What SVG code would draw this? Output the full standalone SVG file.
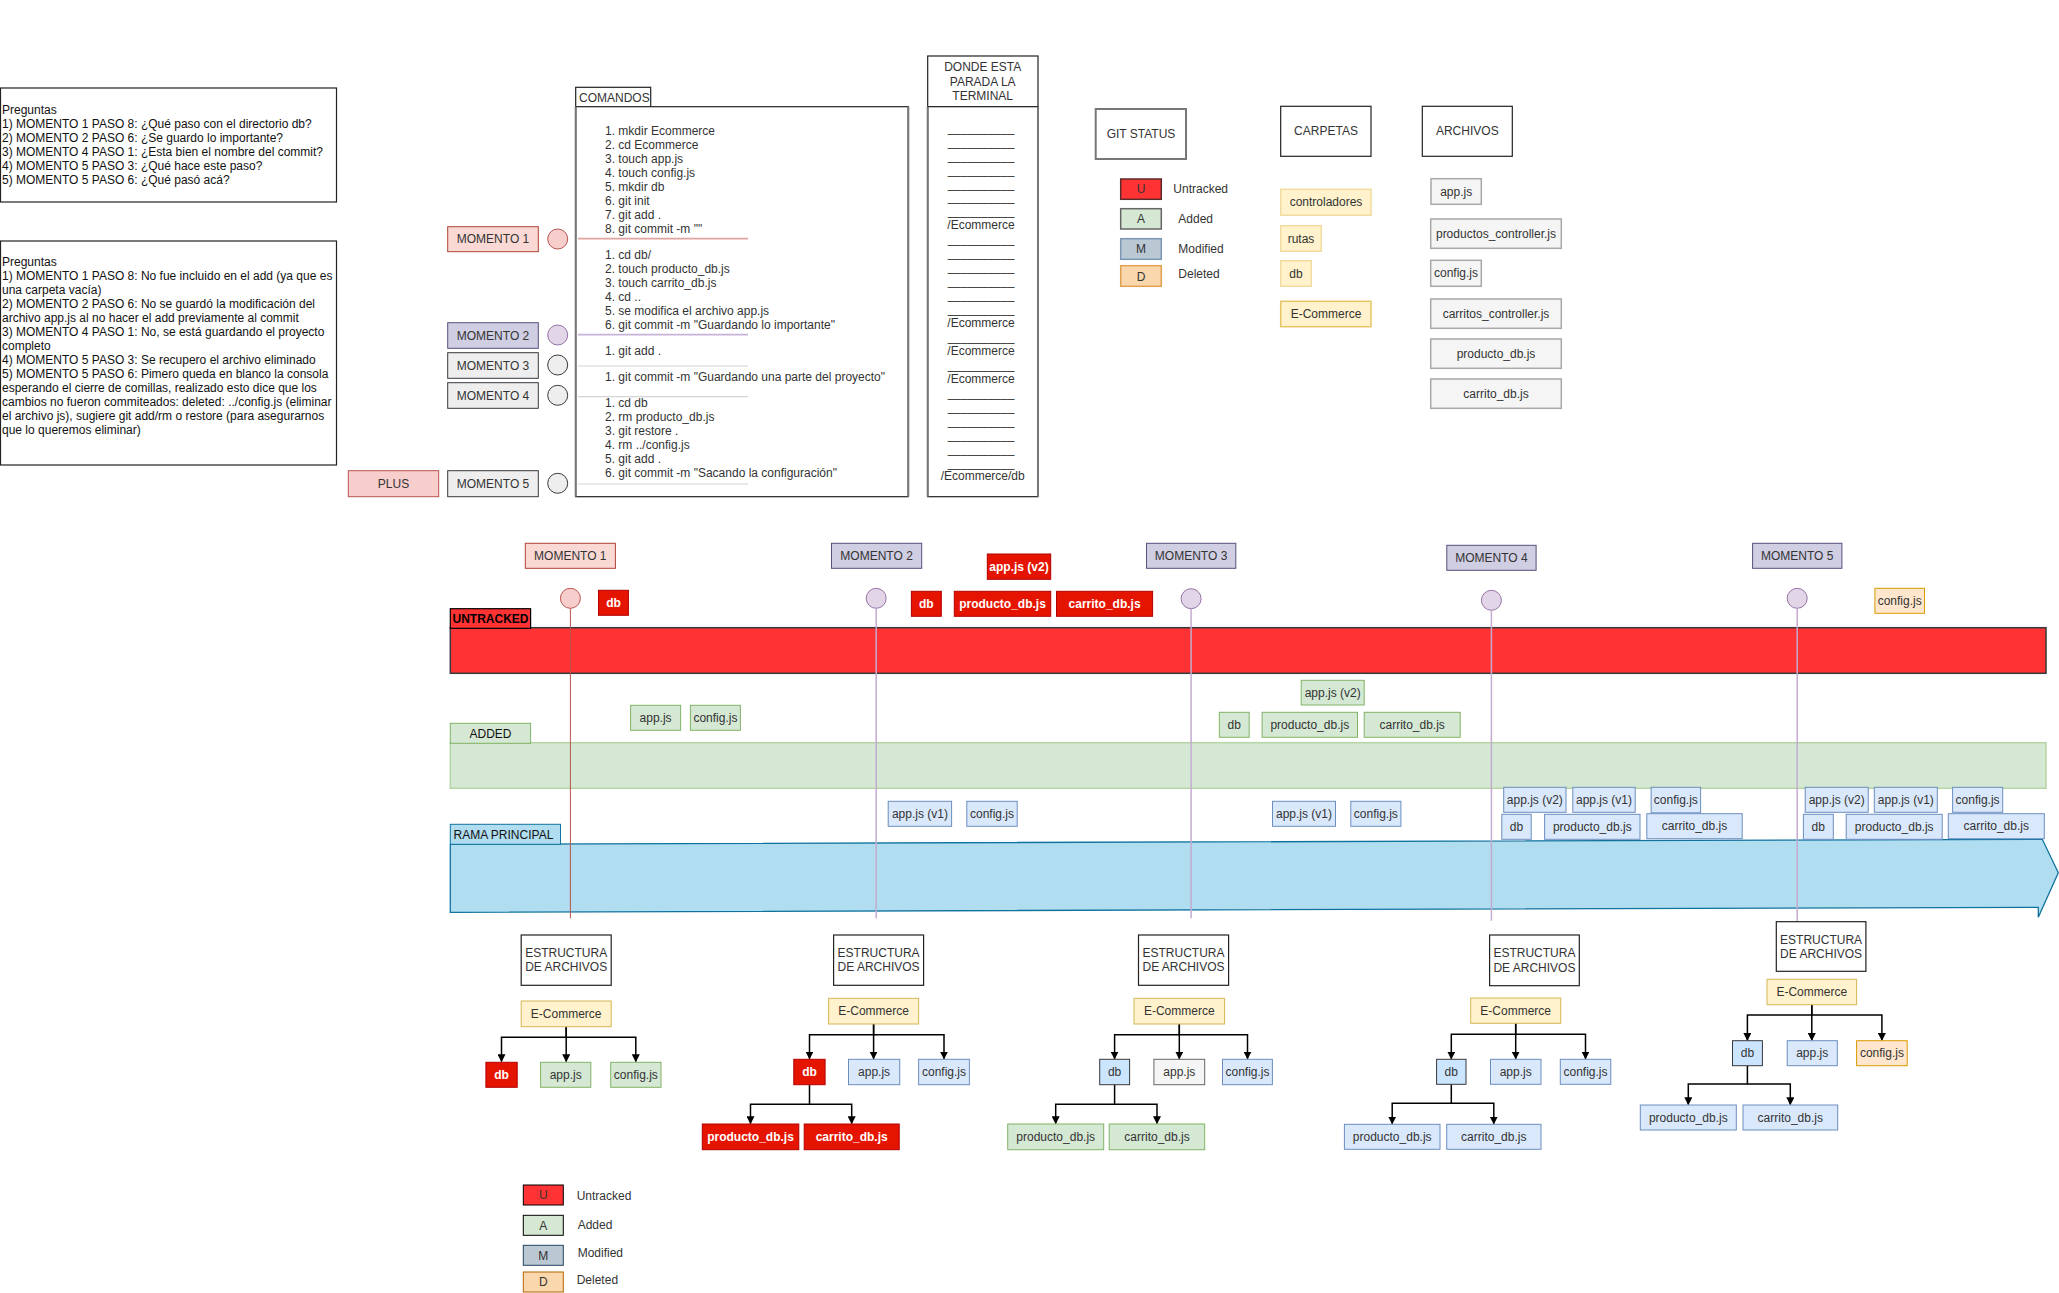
<svg xmlns="http://www.w3.org/2000/svg" width="2059" height="1293" viewBox="0 0 2059 1293">
<defs>
<style>
text { font-family: "Liberation Sans", Arial, Helvetica, sans-serif; font-size: 12px; fill: #333; }
.m { text-anchor: middle; dominant-baseline: central; }
.l { dominant-baseline: central; }
.q { font-size: 12px; fill: #111; }
.w { fill: #fff; font-weight: bold; }
.b { font-weight: bold; fill: #000; }
.box { fill: #fff; stroke: #222; stroke-width: 1.2; }
.red { fill: #e51400; stroke: #b20000; }
.grn { fill: #d5e8d4; stroke: #82b366; }
.blu { fill: #dae8fc; stroke: #6c8ebf; }
.dbb { fill: #cce5ff; stroke: #36393d; }
.yel { fill: #fff2cc; stroke: #d6b656; }
.org { fill: #ffe6cc; stroke: #d79b00; }
.gry { fill: #f5f5f5; stroke: #666; }
.lgry { fill: #f5f5f5; stroke: #a8a8a8; stroke-width: 1.5; }
.pk { fill: #fad9d5; stroke: #ae4132; }
.pu { fill: #d0cee2; stroke: #56517e; }
.ge { fill: #eeeeee; stroke: #36393d; }
.arr { fill: none; stroke: #000; stroke-width: 1.5; marker-end: url(#tip); }
.vl { fill: none; stroke: #c3abd0; stroke-width: 1.5; }
</style>
<marker id="tip" viewBox="0 0 10 10" refX="9" refY="5" markerWidth="8" markerHeight="8" markerUnits="userSpaceOnUse" orient="auto">
<path d="M0,0 L10,5 L0,10 Z" fill="#000"/>
</marker>
</defs>
<rect x="0" y="0" width="2059" height="1293" fill="#fff"/>

<!-- question boxes -->
<g id="preguntas">
<rect x="0.5" y="88" width="336" height="114" class="box"/>
<text class="l q" x="2" y="110.2">Preguntas</text>
<text class="l q" x="2" y="124.2">1) MOMENTO 1 PASO 8: ¿Qué paso con el directorio db?</text>
<text class="l q" x="2" y="138">2) MOMENTO 2 PASO 6: ¿Se guardo lo importante?</text>
<text class="l q" x="2" y="151.9">3) MOMENTO 4 PASO 1: ¿Esta bien el nombre del commit?</text>
<text class="l q" x="2" y="165.8">4) MOMENTO 5 PASO 3: ¿Qué hace este paso?</text>
<text class="l q" x="2" y="179.8">5) MOMENTO 5 PASO 6: ¿Qué pasó acá?</text>
</g>
<g id="respuestas">
<rect x="0.5" y="241" width="336" height="224" class="box"/>
<text class="l q" x="2" y="261.5">Preguntas</text>
<text class="l q" x="2" y="275.5">1) MOMENTO 1 PASO 8: No fue incluido en el add (ya que es</text>
<text class="l q" x="2" y="289.5">una carpeta vacía)</text>
<text class="l q" x="2" y="303.5">2) MOMENTO 2 PASO 6: No se guardó la modificación del</text>
<text class="l q" x="2" y="317.5">archivo app.js al no hacer el add previamente al commit</text>
<text class="l q" x="2" y="331.5">3) MOMENTO 4 PASO 1: No, se está guardando el proyecto</text>
<text class="l q" x="2" y="345.5">completo</text>
<text class="l q" x="2" y="359.5">4) MOMENTO 5 PASO 3: Se recupero el archivo eliminado</text>
<text class="l q" x="2" y="373.5">5) MOMENTO 5 PASO 6: Pimero queda en blanco la consola</text>
<text class="l q" x="2" y="387.5">esperando el cierre de comillas, realizado esto dice que los</text>
<text class="l q" x="2" y="401.5">cambios no fueron commiteados: deleted: ../config.js (eliminar</text>
<text class="l q" x="2" y="415.5">el archivo js), sugiere git add/rm o restore (para asegurarnos</text>
<text class="l q" x="2" y="429.5">que lo queremos eliminar)</text>
</g>

<!-- moment markers beside the command list -->
<g id="plus">
<rect x="348.3" y="470.7" width="90.4" height="26" fill="#f8cecc" stroke="#b85450"/>
<text class="m" x="393.5" y="483.7">PLUS</text>
</g>
<g id="lado-m1">
<rect x="447.7" y="226.7" width="90.6" height="25" class="pk"/>
<text class="m" x="493" y="239.2">MOMENTO 1</text>
<circle cx="557.7" cy="239" r="10" fill="#f8cecc" stroke="#b85450"/>
</g>
<g id="lado-m2">
<rect x="447.7" y="322.7" width="90.6" height="25.6" class="pu"/>
<text class="m" x="493" y="335.5">MOMENTO 2</text>
<circle cx="557.7" cy="335" r="10" fill="#e1d5e7" stroke="#9673a6"/>
</g>
<g id="lado-m3">
<rect x="447.7" y="352.7" width="90.6" height="25.6" class="ge"/>
<text class="m" x="493" y="365.5">MOMENTO 3</text>
<circle cx="557.7" cy="365" r="10" class="ge" stroke="#555"/>
</g>
<g id="lado-m4">
<rect x="447.7" y="382.7" width="90.6" height="25.6" class="ge"/>
<text class="m" x="493" y="395.5">MOMENTO 4</text>
<circle cx="557.7" cy="395.3" r="10" class="ge"/>
</g>
<g id="lado-m5">
<rect x="447.7" y="470.7" width="90.6" height="26" class="ge"/>
<text class="m" x="493" y="483.7">MOMENTO 5</text>
<circle cx="557.7" cy="483.3" r="10" class="ge"/>
</g>

<!-- command list -->
<g id="comandos">
<rect x="575.7" y="87.3" width="75" height="20" class="box"/>
<text class="l" x="579" y="97.5">COMANDOS</text>
<rect x="575.7" y="106.7" width="332.6" height="390" class="box"/>
<line x1="575.7" y1="106.7" x2="575.7" y2="496.7" stroke="#777" stroke-width="2"/>
<line x1="908.3" y1="106.7" x2="908.3" y2="496.7" stroke="#777" stroke-width="2"/>
<text class="l" x="605" y="130.7">1. mkdir Ecommerce</text>
<text class="l" x="605" y="144.7">2. cd Ecommerce</text>
<text class="l" x="605" y="158.7">3. touch app.js</text>
<text class="l" x="605" y="172.7">4. touch config.js</text>
<text class="l" x="605" y="186.7">5. mkdir db</text>
<text class="l" x="605" y="200.7">6. git init</text>
<text class="l" x="605" y="214.7">7. git add .</text>
<text class="l" x="605" y="228.7">8. git commit -m ""</text>
<line x1="578" y1="238.7" x2="748" y2="238.7" stroke="#e0a3a0" stroke-width="1.8"/>
<text class="l" x="605" y="254.7">1. cd db/</text>
<text class="l" x="605" y="268.7">2. touch producto_db.js</text>
<text class="l" x="605" y="282.7">3. touch carrito_db.js</text>
<text class="l" x="605" y="296.7">4. cd ..</text>
<text class="l" x="605" y="310.7">5. se modifica el archivo app.js</text>
<text class="l" x="605" y="324.7">6. git commit -m "Guardando lo importante"</text>
<line x1="578" y1="334.7" x2="748" y2="334.7" stroke="#c7b3d6" stroke-width="1.8"/>
<text class="l" x="605" y="350.7">1. git add .</text>
<line x1="578" y1="366" x2="748" y2="366" stroke="#d4d4d4" stroke-width="1.2"/>
<text class="l" x="605" y="376.7">1. git commit -m "Guardando una parte del proyecto"</text>
<line x1="578" y1="396.7" x2="748" y2="396.7" stroke="#d4d4d4" stroke-width="1.2"/>
<text class="l" x="605" y="402.7">1. cd db</text>
<text class="l" x="605" y="416.7">2. rm producto_db.js</text>
<text class="l" x="605" y="430.7">3. git restore .</text>
<text class="l" x="605" y="444.7">4. rm ../config.js</text>
<text class="l" x="605" y="458.7">5. git add .</text>
<text class="l" x="605" y="472.7">6. git commit -m "Sacando la configuración"</text>
<line x1="578" y1="484" x2="748" y2="484" stroke="#d4d4d4" stroke-width="1.2"/>
</g>

<!-- working directory column -->
<g id="terminal">
<rect x="927.7" y="56" width="110.3" height="50.7" class="box"/>
<text class="m" x="982.7" y="67.3">DONDE ESTA</text>
<text class="m" x="982.7" y="81.7">PARADA LA</text>
<text class="m" x="982.7" y="95.7">TERMINAL</text>
<rect x="927.7" y="106.7" width="110.3" height="390" class="box"/>
<line x1="927.7" y1="106.7" x2="927.7" y2="496.7" stroke="#777" stroke-width="2"/>
<line x1="1038" y1="106.7" x2="1038" y2="496.7" stroke="#777" stroke-width="2"/>
<text class="m">
<tspan x="982.7" y="127.7">__________</tspan>
<tspan x="982.7" y="141.65">__________</tspan>
<tspan x="982.7" y="155.6">__________</tspan>
<tspan x="982.7" y="169.55">__________</tspan>
<tspan x="982.7" y="183.5">__________</tspan>
<tspan x="982.7" y="197.45">__________</tspan>
<tspan x="982.7" y="211.4">__________</tspan>
<tspan x="982.7" y="225.35">/Ecommerce</tspan>
<tspan x="982.7" y="239.3">__________</tspan>
<tspan x="982.7" y="253.25">__________</tspan>
<tspan x="982.7" y="267.2">__________</tspan>
<tspan x="982.7" y="281.15">__________</tspan>
<tspan x="982.7" y="295.1">__________</tspan>
<tspan x="982.7" y="309.05">__________</tspan>
<tspan x="982.7" y="323">/Ecommerce</tspan>
<tspan x="982.7" y="336.95">__________</tspan>
<tspan x="982.7" y="350.9">/Ecommerce</tspan>
<tspan x="982.7" y="364.85">__________</tspan>
<tspan x="982.7" y="378.8">/Ecommerce</tspan>
<tspan x="982.7" y="392.75">__________</tspan>
<tspan x="982.7" y="406.7">__________</tspan>
<tspan x="982.7" y="420.65">__________</tspan>
<tspan x="982.7" y="434.6">__________</tspan>
<tspan x="982.7" y="448.55">__________</tspan>
<tspan x="982.7" y="462.5">__________</tspan>
<tspan x="982.7" y="476.45">/Ecommerce/db</tspan>
</text>
</g>

<!-- status legend -->
<g id="git-status">
<rect x="1095.7" y="109" width="90.3" height="50" fill="#fff" stroke="#777" stroke-width="2"/>
<text class="m" x="1141" y="134.3">GIT STATUS</text>
<rect x="1120.7" y="179" width="40.6" height="20.3" fill="#ff3333" stroke="#5c2a2a" stroke-width="1.5"/>
<text class="m" x="1141" y="189.3">U</text>
<text class="l" x="1173.3" y="189.3">Untracked</text>
<rect x="1120.7" y="208.7" width="40.6" height="20.3" fill="#d5e8d4" stroke="#666" stroke-width="1.5"/>
<text class="m" x="1141" y="219">A</text>
<text class="l" x="1178.3" y="219.3">Added</text>
<rect x="1120.7" y="238.7" width="40.6" height="20.6" fill="#bac8d3" stroke="#7b97b5" stroke-width="1.5"/>
<text class="m" x="1141" y="249">M</text>
<text class="l" x="1178.3" y="249.3">Modified</text>
<rect x="1120.7" y="265.7" width="40.6" height="20.6" fill="#fad7ac" stroke="#e0a050" stroke-width="1.5"/>
<text class="m" x="1141" y="276.5">D</text>
<text class="l" x="1178.3" y="274.3">Deleted</text>
</g>

<g id="carpetas">
<rect x="1280.7" y="106.3" width="90.3" height="50" class="box"/>
<text class="m" x="1326" y="131.3">CARPETAS</text>
<rect x="1280.7" y="189.3" width="90.3" height="26" fill="#fff2cc" stroke="#f0dca0" stroke-width="1.5"/>
<text class="m" x="1326" y="202.3">controladores</text>
<rect x="1280.7" y="225.7" width="40.6" height="25.6" fill="#fff2cc" stroke="#f0dca0" stroke-width="1.5"/>
<text class="m" x="1301" y="238.5">rutas</text>
<rect x="1280.7" y="260.7" width="30.6" height="25.6" fill="#fff2cc" stroke="#f0dca0" stroke-width="1.5"/>
<text class="m" x="1296" y="273.5">db</text>
<rect x="1280.7" y="301.3" width="90.3" height="25.4" fill="#fff2cc" stroke="#e6c566" stroke-width="1.5"/>
<text class="m" x="1326" y="314">E-Commerce</text>
</g>

<g id="archivos">
<rect x="1422.3" y="106.3" width="90" height="50" class="box"/>
<text class="m" x="1467.3" y="131.3">ARCHIVOS</text>
<rect x="1431" y="178.7" width="50.3" height="25.6" class="lgry"/>
<text class="m" x="1456.2" y="191.5">app.js</text>
<rect x="1430.7" y="219" width="130.6" height="29.3" class="lgry"/>
<text class="m" x="1496" y="233.7">productos_controller.js</text>
<rect x="1430.7" y="260.3" width="50.6" height="26" class="lgry"/>
<text class="m" x="1456" y="273.3">config.js</text>
<rect x="1430.7" y="299" width="130.6" height="29.3" class="lgry"/>
<text class="m" x="1496" y="313.7">carritos_controller.js</text>
<rect x="1430.7" y="339" width="130.6" height="29.3" class="lgry"/>
<text class="m" x="1496" y="353.7">producto_db.js</text>
<rect x="1430.7" y="379" width="130.6" height="29.3" class="lgry"/>
<text class="m" x="1496" y="393.7">carrito_db.js</text>
</g>

<!-- lanes -->
<g id="carril-untracked">
<rect x="450.3" y="627.7" width="1595.7" height="45.6" fill="#ff3333" stroke="#36393d" stroke-width="1.5"/>
<rect x="450.3" y="608.7" width="80.3" height="19.6" fill="#ff3333" stroke="#000" stroke-width="1.2"/>
<text class="m b" x="490.5" y="618.7">UNTRACKED</text>
</g>
<g id="carril-added">
<rect x="450.3" y="742.7" width="1595.7" height="45.6" fill="#d5e8d4" stroke="#b5d5a5" stroke-width="1.5"/>
<rect x="450.3" y="723.3" width="80.3" height="20" fill="#d5e8d4" stroke="#82b366"/>
<text class="m" x="490.5" y="733.5" style="fill:#111">ADDED</text>
</g>
<g id="carril-rama">
<polygon points="450.3,844.3 2042.3,839.3 2058.3,872.7 2038.3,917.3 2038.3,907.3 450.3,912.3" fill="#b1ddf0" stroke="#10739e" stroke-width="1.3"/>
<rect x="450.3" y="824.3" width="110.2" height="20" fill="#b1ddf0" stroke="#10739e"/>
<text class="l" x="453.5" y="834.5" style="fill:#111">RAMA PRINCIPAL</text>
</g>

<!-- timeline moments -->
<g id="momento-1">
<rect x="525.3" y="543.3" width="90.1" height="25" class="pk"/>
<text class="m" x="570.3" y="555.8">MOMENTO 1</text>
<circle cx="570.4" cy="598.3" r="10" fill="#f8cecc" stroke="#b85450"/>
</g>
<g id="momento-2">
<rect x="831.5" y="543.3" width="90.2" height="25" class="pu"/>
<text class="m" x="876.6" y="555.8">MOMENTO 2</text>
<circle cx="876.2" cy="598.3" r="10" fill="#e1d5e7" stroke="#9673a6"/>
</g>
<g id="momento-3">
<rect x="1146.5" y="543.3" width="89.3" height="25" class="pu"/>
<text class="m" x="1191.1" y="555.8">MOMENTO 3</text>
<circle cx="1191.1" cy="598.7" r="10" fill="#e1d5e7" stroke="#9673a6"/>
</g>
<g id="momento-4">
<rect x="1446.8" y="545.3" width="89.3" height="25" class="pu"/>
<text class="m" x="1491.4" y="557.8">MOMENTO 4</text>
<circle cx="1491.4" cy="600.3" r="10" fill="#e1d5e7" stroke="#9673a6"/>
</g>
<g id="momento-5">
<rect x="1752.6" y="543.3" width="89.3" height="25" class="pu"/>
<text class="m" x="1797.2" y="555.8">MOMENTO 5</text>
<circle cx="1797.2" cy="598.3" r="10" fill="#e1d5e7" stroke="#9673a6"/>
</g>

<!-- connectors: moment lines and tree arrows -->
<g id="connectors">
<line x1="570.4" y1="608.3" x2="570.4" y2="918.3" stroke="#b85450" stroke-width="1"/>
<line x1="876.2" y1="608.3" x2="876.2" y2="918.3" class="vl"/>
<line x1="1191.1" y1="608.7" x2="1191.1" y2="918.3" class="vl"/>
<line x1="1491.4" y1="610.3" x2="1491.4" y2="920.7" class="vl"/>
<line x1="1797.2" y1="608.3" x2="1797.2" y2="921.7" class="vl"/>

<path class="arr" d="M566.2,1026.7 V1037.3 H501.5 V1061.5"/>
<path class="arr" d="M566.2,1026.7 V1061.5"/>
<path class="arr" d="M566.2,1037.3 H635.8 V1061.5"/>

<path class="arr" d="M873.6,1024 V1034.7 H809.5 V1058.8"/>
<path class="arr" d="M873.6,1024 V1058.8"/>
<path class="arr" d="M873.6,1034.7 H944 V1058.8"/>
<path class="arr" d="M809.5,1084.7 V1104.3 H750.5 V1123.5"/>
<path class="arr" d="M809.5,1104.3 H851.7 V1123.5"/>

<path class="arr" d="M1179.3,1024 V1034.7 H1114.6 V1058.8"/>
<path class="arr" d="M1179.3,1024 V1058.8"/>
<path class="arr" d="M1179.3,1034.7 H1247.5 V1058.8"/>
<path class="arr" d="M1114.6,1084.7 V1104.3 H1055.7 V1123.5"/>
<path class="arr" d="M1114.6,1104.3 H1157 V1123.5"/>

<path class="arr" d="M1515.7,1023.3 V1034.3 H1451.3 V1058.8"/>
<path class="arr" d="M1515.7,1023.3 V1058.8"/>
<path class="arr" d="M1515.7,1034.3 H1585.5 V1058.8"/>
<path class="arr" d="M1451.3,1084.3 V1103.3 H1392.2 V1123.8"/>
<path class="arr" d="M1451.3,1103.3 H1493.8 V1123.8"/>

<path class="arr" d="M1811.8,1004.7 V1015 H1747.4 V1040.2"/>
<path class="arr" d="M1811.8,1004.7 V1040.2"/>
<path class="arr" d="M1811.8,1015 H1881.9 V1040.2"/>
<path class="arr" d="M1747.4,1065.7 V1084 H1688.3 V1104.5"/>
<path class="arr" d="M1747.4,1084 H1790.3 V1104.5"/>
</g>

<!-- files in each lane -->
<g id="untracked-m1-db">
<rect x="598.5" y="590.3" width="29.9" height="25" class="red"/>
<text class="m w" x="613.5" y="602.8">db</text>
</g>
<g id="untracked-m2-appjs-v2">
<rect x="987.3" y="554" width="63.4" height="25.3" class="red"/>
<text class="m w" x="1019" y="566.7">app.js (v2)</text>
</g>
<g id="untracked-m2-db">
<rect x="911.4" y="591.3" width="29.9" height="25" class="red"/>
<text class="m w" x="926.3" y="603.8">db</text>
</g>
<g id="untracked-m2-producto">
<rect x="954.3" y="591.3" width="96.4" height="25" class="red"/>
<text class="m w" x="1002.5" y="603.8">producto_db.js</text>
</g>
<g id="untracked-m2-carrito">
<rect x="1056.5" y="591.3" width="96.1" height="25" class="red"/>
<text class="m w" x="1104.6" y="603.8">carrito_db.js</text>
</g>
<g id="deleted-m5-config">
<rect x="1874.9" y="588.3" width="49.6" height="25" class="org"/>
<text class="m" x="1899.7" y="600.8">config.js</text>
</g>

<g id="added-m1-appjs">
<rect x="630.6" y="705.3" width="50" height="25" class="grn"/>
<text class="m" x="655.6" y="717.8">app.js</text>
</g>
<g id="added-m1-config">
<rect x="690.4" y="705.3" width="50" height="25" class="grn"/>
<text class="m" x="715.4" y="717.8">config.js</text>
</g>
<g id="added-m3-appjs-v2">
<rect x="1301.2" y="680.3" width="63" height="24.7" class="grn"/>
<text class="m" x="1332.7" y="692.7">app.js (v2)</text>
</g>
<g id="added-m3-db">
<rect x="1219.3" y="712.3" width="29.9" height="25" class="grn"/>
<text class="m" x="1234.2" y="724.8">db</text>
</g>
<g id="added-m3-producto">
<rect x="1262.1" y="712.3" width="95.4" height="25" class="grn"/>
<text class="m" x="1309.8" y="724.8">producto_db.js</text>
</g>
<g id="added-m3-carrito">
<rect x="1364.2" y="712.3" width="96" height="25" class="grn"/>
<text class="m" x="1412.2" y="724.8">carrito_db.js</text>
</g>

<g id="rama-m2-appjs-v1">
<rect x="888.2" y="801.3" width="63.4" height="25" class="blu"/>
<text class="m" x="919.9" y="813.8">app.js (v1)</text>
</g>
<g id="rama-m2-config">
<rect x="966.8" y="801.3" width="50.4" height="25" class="blu"/>
<text class="m" x="992" y="813.8">config.js</text>
</g>
<g id="rama-m3-appjs-v1">
<rect x="1272.5" y="801.3" width="63" height="25" class="blu"/>
<text class="m" x="1304" y="813.8">app.js (v1)</text>
</g>
<g id="rama-m3-config">
<rect x="1350.8" y="801.3" width="50.1" height="25" class="blu"/>
<text class="m" x="1375.8" y="813.8">config.js</text>
</g>
<g id="rama-m4-appjs-v2">
<rect x="1503.7" y="787.3" width="62.3" height="25" class="blu"/>
<text class="m" x="1534.8" y="799.8">app.js (v2)</text>
</g>
<g id="rama-m4-appjs-v1">
<rect x="1572.8" y="787.3" width="62.4" height="25" class="blu"/>
<text class="m" x="1604" y="799.8">app.js (v1)</text>
</g>
<g id="rama-m4-config">
<rect x="1651.1" y="787.3" width="49.5" height="25.5" class="blu"/>
<text class="m" x="1675.8" y="799.8">config.js</text>
</g>
<g id="rama-m4-db">
<rect x="1501.8" y="814.3" width="29.4" height="25" class="blu"/>
<text class="m" x="1516.5" y="826.8">db</text>
</g>
<g id="rama-m4-producto">
<rect x="1544.6" y="814.3" width="95.4" height="25" class="blu"/>
<text class="m" x="1592.3" y="826.8">producto_db.js</text>
</g>
<g id="rama-m4-carrito">
<rect x="1646.8" y="813.7" width="95.4" height="25" class="blu"/>
<text class="m" x="1694.5" y="826.2">carrito_db.js</text>
</g>
<g id="rama-m5-appjs-v2">
<rect x="1805.2" y="787.3" width="63" height="25" class="blu"/>
<text class="m" x="1836.7" y="799.8">app.js (v2)</text>
</g>
<g id="rama-m5-appjs-v1">
<rect x="1874.3" y="787.3" width="63" height="25" class="blu"/>
<text class="m" x="1905.8" y="799.8">app.js (v1)</text>
</g>
<g id="rama-m5-config">
<rect x="1952.6" y="787.3" width="50.1" height="25" class="blu"/>
<text class="m" x="1977.6" y="799.8">config.js</text>
</g>
<g id="rama-m5-db">
<rect x="1803.4" y="814.3" width="29.9" height="25" class="blu"/>
<text class="m" x="1818.3" y="826.8">db</text>
</g>
<g id="rama-m5-producto">
<rect x="1846.2" y="814.3" width="96" height="25" class="blu"/>
<text class="m" x="1894.2" y="826.8">producto_db.js</text>
</g>
<g id="rama-m5-carrito">
<rect x="1948.3" y="813.7" width="96" height="25" class="blu"/>
<text class="m" x="1996.3" y="826.2">carrito_db.js</text>
</g>

<!-- file structure trees -->
<g id="arbol-1">
<rect x="521.2" y="935" width="90" height="50.3" class="box"/>
<text class="m" x="566.2" y="953.3">ESTRUCTURA</text>
<text class="m" x="566.2" y="967.3">DE ARCHIVOS</text>
<rect x="521.2" y="1001" width="90" height="25.7" class="yel"/>
<text class="m" x="566.2" y="1013.8">E-Commerce</text>
<rect x="485.9" y="1062.3" width="31.3" height="25" class="red"/>
<text class="m w" x="501.5" y="1074.8">db</text>
<rect x="540.6" y="1062.3" width="50.2" height="25" class="grn"/>
<text class="m" x="565.7" y="1074.8">app.js</text>
<rect x="610.7" y="1062.3" width="50.3" height="25" class="grn"/>
<text class="m" x="635.8" y="1074.8">config.js</text>
</g>

<g id="arbol-2">
<rect x="833.6" y="935" width="90" height="50.3" class="box"/>
<text class="m" x="878.6" y="953.3">ESTRUCTURA</text>
<text class="m" x="878.6" y="967.3">DE ARCHIVOS</text>
<rect x="828.6" y="998.3" width="90" height="25.7" class="yel"/>
<text class="m" x="873.6" y="1011.2">E-Commerce</text>
<rect x="793.8" y="1059.3" width="31.3" height="25.4" class="red"/>
<text class="m w" x="809.5" y="1072">db</text>
<rect x="848.5" y="1059.3" width="51.2" height="25.4" class="blu"/>
<text class="m" x="874.1" y="1072">app.js</text>
<rect x="918.6" y="1059.3" width="50.8" height="25.4" class="blu"/>
<text class="m" x="944" y="1072">config.js</text>
<rect x="702.3" y="1124" width="96.5" height="25.7" class="red"/>
<text class="m w" x="750.5" y="1136.8">producto_db.js</text>
<rect x="804.2" y="1124" width="95" height="25.7" class="red"/>
<text class="m w" x="851.7" y="1136.8">carrito_db.js</text>
</g>

<g id="arbol-3">
<rect x="1138.5" y="935" width="90.1" height="50.3" class="box"/>
<text class="m" x="1183.5" y="953.3">ESTRUCTURA</text>
<text class="m" x="1183.5" y="967.3">DE ARCHIVOS</text>
<rect x="1134" y="998.3" width="90.6" height="25.7" class="yel"/>
<text class="m" x="1179.3" y="1011.2">E-Commerce</text>
<rect x="1099.7" y="1059.3" width="29.9" height="25.4" class="dbb"/>
<text class="m" x="1114.6" y="1072">db</text>
<rect x="1153.9" y="1059.3" width="50.8" height="25.4" class="gry"/>
<text class="m" x="1179.3" y="1072">app.js</text>
<rect x="1222.5" y="1059.3" width="49.9" height="25.4" class="blu"/>
<text class="m" x="1247.5" y="1072">config.js</text>
<rect x="1007.7" y="1124" width="96" height="25.7" class="grn"/>
<text class="m" x="1055.7" y="1136.8">producto_db.js</text>
<rect x="1109.2" y="1124" width="95.5" height="25.7" class="grn"/>
<text class="m" x="1157" y="1136.8">carrito_db.js</text>
</g>

<g id="arbol-4">
<rect x="1489.6" y="935" width="89.7" height="50.7" class="box"/>
<text class="m" x="1534.4" y="953.3">ESTRUCTURA</text>
<text class="m" x="1534.4" y="967.7">DE ARCHIVOS</text>
<rect x="1470.7" y="998" width="90" height="25.3" class="yel"/>
<text class="m" x="1515.7" y="1010.7">E-Commerce</text>
<rect x="1436.6" y="1059.3" width="29.4" height="25" class="dbb"/>
<text class="m" x="1451.3" y="1071.8">db</text>
<rect x="1490.5" y="1059.3" width="50.5" height="25" class="blu"/>
<text class="m" x="1515.7" y="1071.8">app.js</text>
<rect x="1560.3" y="1059.3" width="50.5" height="25" class="blu"/>
<text class="m" x="1585.5" y="1071.8">config.js</text>
<rect x="1344.4" y="1124.3" width="95.6" height="25" class="blu"/>
<text class="m" x="1392.2" y="1136.8">producto_db.js</text>
<rect x="1446.7" y="1124.3" width="94.3" height="25" class="blu"/>
<text class="m" x="1493.8" y="1136.8">carrito_db.js</text>
</g>

<g id="arbol-5">
<rect x="1776.3" y="921.7" width="89.6" height="49.6" class="box"/>
<text class="m" x="1821.1" y="940">ESTRUCTURA</text>
<text class="m" x="1821.1" y="954">DE ARCHIVOS</text>
<rect x="1767" y="979.3" width="89.6" height="25.4" class="yel"/>
<text class="m" x="1811.8" y="992">E-Commerce</text>
<rect x="1732.5" y="1040.7" width="29.9" height="25" class="dbb"/>
<text class="m" x="1747.4" y="1053.2">db</text>
<rect x="1787.2" y="1040.7" width="50.1" height="25" class="blu"/>
<text class="m" x="1812.2" y="1053.2">app.js</text>
<rect x="1856.6" y="1040.7" width="50.6" height="25" class="org"/>
<text class="m" x="1881.9" y="1053.2">config.js</text>
<rect x="1640.3" y="1105" width="96" height="25" class="blu"/>
<text class="m" x="1688.3" y="1117.5">producto_db.js</text>
<rect x="1743" y="1105" width="94.7" height="25" class="blu"/>
<text class="m" x="1790.3" y="1117.5">carrito_db.js</text>
</g>

<!-- bottom legend -->
<g id="leyenda">
<rect x="523.3" y="1185" width="40" height="20" fill="#ff3333" stroke="#000"/>
<text class="m" x="543.3" y="1195.3">U</text>
<text class="l" x="576.7" y="1196">Untracked</text>
<rect x="523.3" y="1215.3" width="40" height="20" fill="#d5e8d4" stroke="#000"/>
<text class="m" x="543.3" y="1225.6">A</text>
<text class="l" x="577.7" y="1225">Added</text>
<rect x="523.3" y="1245.3" width="40" height="20" fill="#bac8d3" stroke="#23445d"/>
<text class="m" x="543.3" y="1255.6">M</text>
<text class="l" x="577.7" y="1253.3">Modified</text>
<rect x="523.3" y="1272" width="40" height="20" fill="#fad7ac" stroke="#b46504"/>
<text class="m" x="543.3" y="1282.3">D</text>
<text class="l" x="576.7" y="1280">Deleted</text>
</g>
</svg>
